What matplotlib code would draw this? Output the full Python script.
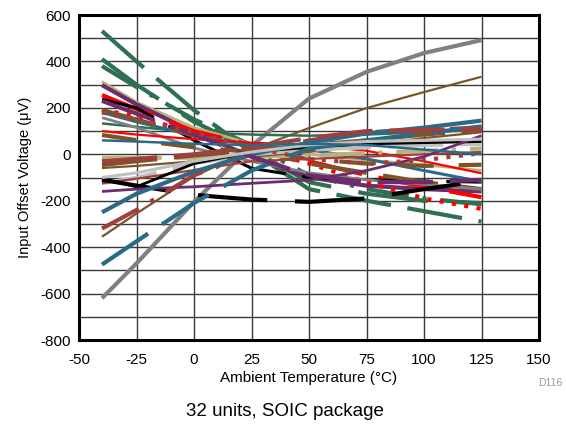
import matplotlib
matplotlib.use("Agg")
import matplotlib.pyplot as plt

plt.rcParams['font.family'] = ['Liberation Sans', 'DejaVu Sans']
plt.rcParams['lines.scale_dashes'] = False
plt.rcParams['axes.unicode_minus'] = False

temps = [-40, -25, 0, 25, 50, 75, 100, 125]

GREEN = '#2E7050'
KHAKI = '#B8B37A'
PURPLE = '#6E2C6E'
RED = '#FF0000'
BROWN = '#7B5427'
REDBROWN = '#A23E3E'
TEAL = '#2B6A86'
GRAY = '#808080'
LGRAY = '#C0C0C0'
BLACK = '#000000'

SOLID = None
DASH = (40, 12)
DOT = (3, 6)
DASHDOT = (30, 10, 3, 10)
LONGDASH = (50, 20)
SHORTDASH = (25, 18)

u01 = [-620, -470, -205, 36, 240, 355, 436, 492]
u02 = [-355, -255, -95, 20, 113, 199, 268, 334]
u03 = [531, 400, 190, 10, -150, -200, -245, -290]
u04 = [410, 300, 140, 20, -120, -170, -200, -210]
u05 = [380, 290, 150, 40, -90, -150, -190, -215]
u06 = [133, 118, 95, 85, 80, 85, 95, 105]
u07 = [313, 225, 115, 45, 0, -25, -45, -70]
u08 = [298, 215, 95, -10, -100, -135, -150, -160]
u09 = [255, 195, 100, 40, -30, -90, -140, -185]
u10 = [237, 200, 60, -60, -100, -110, -115, -120]
u11 = [190, 165, 90, 30, -40, -120, -190, -235]
u12 = [180, 140, 80, 40, 20, -20, -70, -118]
u13 = [191, 150, 80, 20, -40, -80, -120, -150]
u14 = [158, 115, 27, -30, -80, -110, -130, -150]
u15 = [100, 85, 65, 50, 40, 15, -30, -82]
u16 = [83, 61, 30, 10, -20, -40, -50, -45]
u17 = [-15, -15, -15, -10, -5, 5, 15, 25]
u18 = [-46, -30, -5, 15, 40, 60, 85, 105]
u19 = [-59, -50, -30, -10, 10, 40, 70, 95]
u20 = [-124, -102, -38, 0, 20, 30, 40, 45]
u21 = [-125, -105, -68, -30, -20, -10, 0, 10]
u22 = [-105, -140, -40, 10, 30, 45, 50, 55]
u23 = [-110, -135, -175, -195, -205, -190, -150, -115]
u24 = [-160, -150, -140, -125, -111, -70, -10, 80]
u25 = [-320, -240, -90, 0, 60, 95, 105, 115]
u26 = [-250, -170, -75, 0, 50, 90, 115, 145]
u27 = [-475, -375, -210, -70, 25, 60, 90, 120]
u28 = [230, 175, 85, -10, -90, -120, -120, -110]
u29 = [180, 150, 95, 30, -20, -40, -25, 5]
u30 = [-30, -20, 0, 30, 70, 100, 105, 110]
u31 = [-100, -80, -30, 10, 40, 55, 60, 65]
u32 = [60, 55, 45, 40, 45, 40, 20, 0]

series = [
    (u01, GRAY, SOLID, 3.0),
    (u02, BROWN, SOLID, 1.6),
    (u03, GREEN, DASH, 3.0),
    (u04, GREEN, LONGDASH, 3.0),
    (u05, GREEN, DASHDOT, 3.0),
    (u06, GREEN, SOLID, 1.8),
    (u07, KHAKI, SOLID, 2.0),
    (u08, PURPLE, SOLID, 3.0),
    (u09, RED, DASH, 3.0),
    (u10, BLACK, DASH, 2.2),
    (u11, RED, DOT, 3.0),
    (u12, TEAL, SOLID, 2.2),
    (u13, BROWN, DASH, 3.0),
    (u14, GRAY, SOLID, 2.0),
    (u15, RED, SOLID, 1.6),
    (u16, BROWN, SHORTDASH, 3.0),
    (u17, KHAKI, DASHDOT, 3.0),
    (u18, BROWN, DASH, 3.0),
    (u19, BROWN, SOLID, 1.6),
    (u20, LGRAY, DASH, 3.0),
    (u21, REDBROWN, SOLID, 1.6),
    (u22, BLACK, SOLID, 2.0),
    (u23, BLACK, LONGDASH, 3.0),
    (u24, PURPLE, SOLID, 2.0),
    (u25, REDBROWN, DASHDOT, 3.0),
    (u26, TEAL, SOLID, 3.0),
    (u27, TEAL, DASH, 3.0),
    (u28, PURPLE, DASH, 3.0),
    (u29, REDBROWN, DOT, 3.0),
    (u30, REDBROWN, DASH, 3.0),
    (u31, LGRAY, SOLID, 2.2),
    (u32, TEAL, SOLID, 1.8),
]

fig = plt.figure(figsize=(5.66, 4.32), dpi=100)
ax = fig.add_axes([79/566, (432-340)/432, (539-79)/566, (340-15)/432])

for vals, color, dash, lw in series:
    line, = ax.plot(temps, vals, color=color, lw=lw, solid_capstyle='butt',
                    dash_capstyle='butt', zorder=3)
    if dash is not None:
        line.set_dashes(dash)

ax.set_xlim(-50, 150)
ax.set_ylim(-800, 600)
ax.set_xticks(range(-50, 151, 25))
ax.set_yticks(range(-800, 601, 200))
ax.set_yticks(range(-700, 600, 200), minor=True)
ax.tick_params(axis='both', which='both', length=0, labelsize=11)
ax.tick_params(axis='x', pad=9)
ax.tick_params(axis='y', pad=6)
ax.grid(True, which='both', color='#3a3a3a', lw=1.0, zorder=1)
for s in ax.spines.values():
    s.set_linewidth(2.2)
    s.set_zorder(4)

ax.set_xlabel('Ambient Temperature (°C)', fontsize=11, labelpad=3)
ax.set_ylabel('Input Offset Voltage (μV)', fontsize=10.5, labelpad=6)

fig.text(562/566, 1 - 383/432, 'D116', fontsize=7.5, color='#999999', ha='right', va='center')
fig.text(285/566, 1 - 412/432, '32 units, SOIC package', fontsize=13.5, ha='center', va='center')

fig.savefig('out.png', dpi=100)
